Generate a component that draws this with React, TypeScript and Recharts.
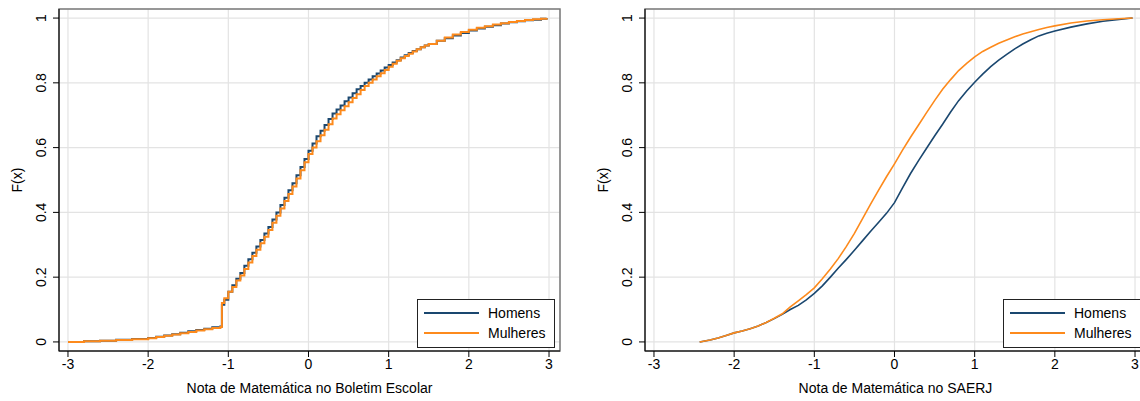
import React from "react";
import {
  LineChart,
  Line,
  XAxis,
  YAxis,
  CartesianGrid,
  ReferenceArea,
} from "recharts";

// Boletim escolar (left panel): x = nota padronizada, F(x) acumulada
const boletimNotas = [
  -3.0, -2.8, -2.6, -2.4, -2.2, -2.0, -1.9, -1.8, -1.7, -1.6, -1.5, -1.4, -1.3,
  -1.2, -1.1, -1.08, -1.05, -1.0, -0.95, -0.9, -0.85, -0.8, -0.75, -0.7, -0.65,
  -0.6, -0.55, -0.5, -0.45, -0.4, -0.35, -0.3, -0.25, -0.2, -0.15, -0.1, -0.05,
  0.0, 0.05, 0.1, 0.15, 0.2, 0.25, 0.3, 0.35, 0.4, 0.45, 0.5, 0.55, 0.6, 0.65,
  0.7, 0.75, 0.8, 0.85, 0.9, 0.95, 1.0, 1.05, 1.1, 1.15, 1.2, 1.25, 1.3, 1.35,
  1.4, 1.45, 1.5, 1.6, 1.7, 1.8, 1.9, 2.0, 2.1, 2.2, 2.3, 2.4, 2.5, 2.6, 2.7,
  2.8, 2.9, 2.97,
];
const boletimHomens = [
  0, 0.002, 0.004, 0.007, 0.009, 0.012, 0.016, 0.02, 0.024, 0.028, 0.033, 0.037,
  0.041, 0.045, 0.048, 0.115, 0.13, 0.155, 0.175, 0.195, 0.213, 0.235, 0.255,
  0.275, 0.295, 0.315, 0.335, 0.355, 0.378, 0.4, 0.423, 0.445, 0.468, 0.49,
  0.515, 0.54, 0.565, 0.59, 0.613, 0.635, 0.652, 0.67, 0.688, 0.705, 0.718,
  0.73, 0.743, 0.755, 0.768, 0.78, 0.79, 0.8, 0.81, 0.82, 0.829, 0.838, 0.847,
  0.855, 0.863, 0.87, 0.878, 0.885, 0.892, 0.898, 0.904, 0.91, 0.915, 0.92,
  0.93, 0.938, 0.946, 0.954, 0.962, 0.968, 0.973, 0.978, 0.983, 0.987, 0.99,
  0.993, 0.995, 0.998, 1.0,
];
const boletimMulheres = [
  0, 0.002, 0.004, 0.006, 0.008, 0.011, 0.015, 0.019, 0.023, 0.027, 0.031,
  0.035, 0.039, 0.043, 0.046, 0.12, 0.135, 0.155, 0.17, 0.19, 0.205, 0.225,
  0.245, 0.265, 0.285, 0.305, 0.325, 0.346, 0.368, 0.39, 0.412, 0.435, 0.457,
  0.48, 0.505, 0.53, 0.555, 0.58, 0.6, 0.62, 0.638, 0.655, 0.672, 0.69, 0.703,
  0.715, 0.728, 0.74, 0.753, 0.765, 0.778, 0.79, 0.8, 0.81, 0.82, 0.83, 0.84,
  0.85, 0.859, 0.868, 0.876, 0.883, 0.89, 0.897, 0.904, 0.91, 0.915, 0.92,
  0.93, 0.94, 0.949, 0.957, 0.964, 0.97, 0.975, 0.98, 0.984, 0.988, 0.991,
  0.994, 0.996, 0.998, 1.0,
];

// SAERJ (right panel)
const saerjNotas = [
  -2.43, -2.3, -2.2, -2.1, -2.0, -1.9, -1.8, -1.7, -1.6, -1.5, -1.4, -1.3, -1.2,
  -1.1, -1.0, -0.9, -0.8, -0.7, -0.6, -0.5, -0.4, -0.3, -0.2, -0.1, 0.0, 0.1,
  0.2, 0.3, 0.4, 0.5, 0.6, 0.7, 0.8, 0.9, 1.0, 1.1, 1.2, 1.3, 1.4, 1.5, 1.6,
  1.7, 1.8, 1.9, 2.0, 2.2, 2.4, 2.6, 2.8, 2.97,
];
const saerjHomens = [
  0, 0.006, 0.012, 0.02, 0.028, 0.034, 0.041, 0.049, 0.06, 0.072, 0.085, 0.1,
  0.113, 0.13, 0.15, 0.173, 0.2, 0.228, 0.255, 0.283, 0.312, 0.341, 0.369,
  0.397, 0.43, 0.476, 0.52, 0.56, 0.598, 0.636, 0.672, 0.71, 0.745, 0.775,
  0.802, 0.827, 0.85, 0.87, 0.888, 0.905, 0.92, 0.933, 0.945, 0.953, 0.96,
  0.972, 0.982, 0.99, 0.996, 1.0,
];
const saerjMulheres = [
  0, 0.006, 0.012, 0.02, 0.028, 0.034, 0.041, 0.049, 0.06, 0.073, 0.087, 0.108,
  0.127, 0.146, 0.167, 0.195, 0.225, 0.258, 0.295, 0.335, 0.38, 0.425, 0.468,
  0.51, 0.55, 0.592, 0.632, 0.67, 0.708, 0.745, 0.78, 0.81, 0.838, 0.86, 0.88,
  0.897, 0.91, 0.922, 0.932, 0.942, 0.951, 0.958, 0.965, 0.971, 0.976, 0.985,
  0.991, 0.995, 0.998, 1.0,
];

const xTicks = [-3, -2, -1, 0, 1, 2, 3];
const yTicks = [0, 0.2, 0.4, 0.6, 0.8, 1];
const seriesNames = ["Homens", "Mulheres"];

const NAVY = "#1a476f";
const ORANGE = "#fd8a1c";
const FONT = "'Liberation Sans', Arial, sans-serif";
const X_DOMAIN: [number, number] = [-3.112, 3.137];
const Y_DOMAIN: [number, number] = [-0.028, 1.028];

const YTick = ({ x, y, payload }: any) => (
  <text
    x={x - 4}
    y={y}
    transform={`rotate(-90, ${x - 4}, ${y})`}
    textAnchor="middle"
    fontSize={14}
    fontFamily={FONT}
    fill="#000"
  >
    {String(payload.value)}
  </text>
);

function buildRows(xs: number[], h: number[], m: number[]) {
  return xs.map((x, i) => ({ x, homens: h[i], mulheres: m[i] }));
}

function Legend({ left }: { left: number }) {
  return (
    <div
      style={{
        position: "absolute",
        left,
        top: 299,
        width: 136,
        height: 47,
        border: "1px solid #222",
        background: "#fff",
        fontFamily: FONT,
        fontSize: 14,
      }}
    >
      {seriesNames.map((name, i) => (
        <div
          key={name}
          style={{
            position: "absolute",
            left: 6,
            top: 4 + i * 20,
            display: "flex",
            alignItems: "center",
            height: 18,
          }}
        >
          <div
            style={{
              width: 55,
              height: 2,
              background: i === 0 ? NAVY : ORANGE,
              marginRight: 9,
            }}
          />
          <span>{name}</span>
        </div>
      ))}
    </div>
  );
}

function CdfPanel({
  rows,
  xLabel,
  stepped,
}: {
  rows: any[];
  xLabel: string;
  stepped: boolean;
}) {
  return (
    <LineChart
      width={570}
      height={401}
      data={rows}
      margin={{ top: 9, right: 10, bottom: 0, left: 0 }}
    >
      <CartesianGrid stroke="#e3e3e3" strokeWidth={1.2} />
      <ReferenceArea
        x1={X_DOMAIN[0]}
        x2={X_DOMAIN[1]}
        y1={Y_DOMAIN[0]}
        y2={Y_DOMAIN[1]}
        fill="none"
        stroke="#7a7a7a"
        strokeWidth={1.5}
        ifOverflow="visible"
      />
      <XAxis
        type="number"
        dataKey="x"
        domain={X_DOMAIN}
        ticks={xTicks}
        allowDataOverflow
        height={50}
        tickSize={6}
        tickMargin={2}
        stroke="#000"
        tick={{ fill: "#000", fontSize: 14, fontFamily: FONT }}
        label={{
          value: xLabel,
          position: "insideBottom",
          offset: 8,
          fill: "#000",
          fontSize: 14,
          fontFamily: FONT,
        }}
      />
      <YAxis
        type="number"
        domain={Y_DOMAIN}
        ticks={yTicks}
        allowDataOverflow
        width={59}
        tickSize={6}
        tickMargin={3}
        stroke="#000"
        tick={<YTick />}
        label={() => (
          <text
            x={22}
            y={180}
            transform="rotate(-90, 22, 180)"
            textAnchor="middle"
            fontSize={14}
            fontFamily={FONT}
            fill="#000"
          >
            F(x)
          </text>
        )}
      />
      <Line
        type={stepped ? "stepAfter" : "linear"}
        dataKey="homens"
        stroke={NAVY}
        strokeWidth={stepped ? 2 : 1.6}
        dot={false}
        isAnimationActive={false}
      />
      <Line
        type={stepped ? "stepAfter" : "linear"}
        dataKey="mulheres"
        stroke={ORANGE}
        strokeWidth={stepped ? 2 : 1.6}
        dot={false}
        isAnimationActive={false}
      />
    </LineChart>
  );
}

export default function App() {
  const boletimRows = buildRows(boletimNotas, boletimHomens, boletimMulheres);
  const saerjRows = buildRows(saerjNotas, saerjHomens, saerjMulheres);
  return (
    <div
      style={{
        position: "absolute",
        left: 0,
        top: 0,
        width: 1140,
        height: 401,
        overflow: "hidden",
        background: "#fff",
      }}
    >
      <div style={{ position: "absolute", left: 0, top: 0 }}>
        <CdfPanel
          rows={boletimRows}
          xLabel="Nota de Matemática no Boletim Escolar"
          stepped
        />
        <Legend left={417} />
      </div>
      <div style={{ position: "absolute", left: 586, top: 0 }}>
        <CdfPanel
          rows={saerjRows}
          xLabel="Nota de Matemática no SAERJ"
          stepped={false}
        />
        <Legend left={417} />
      </div>
    </div>
  );
}
